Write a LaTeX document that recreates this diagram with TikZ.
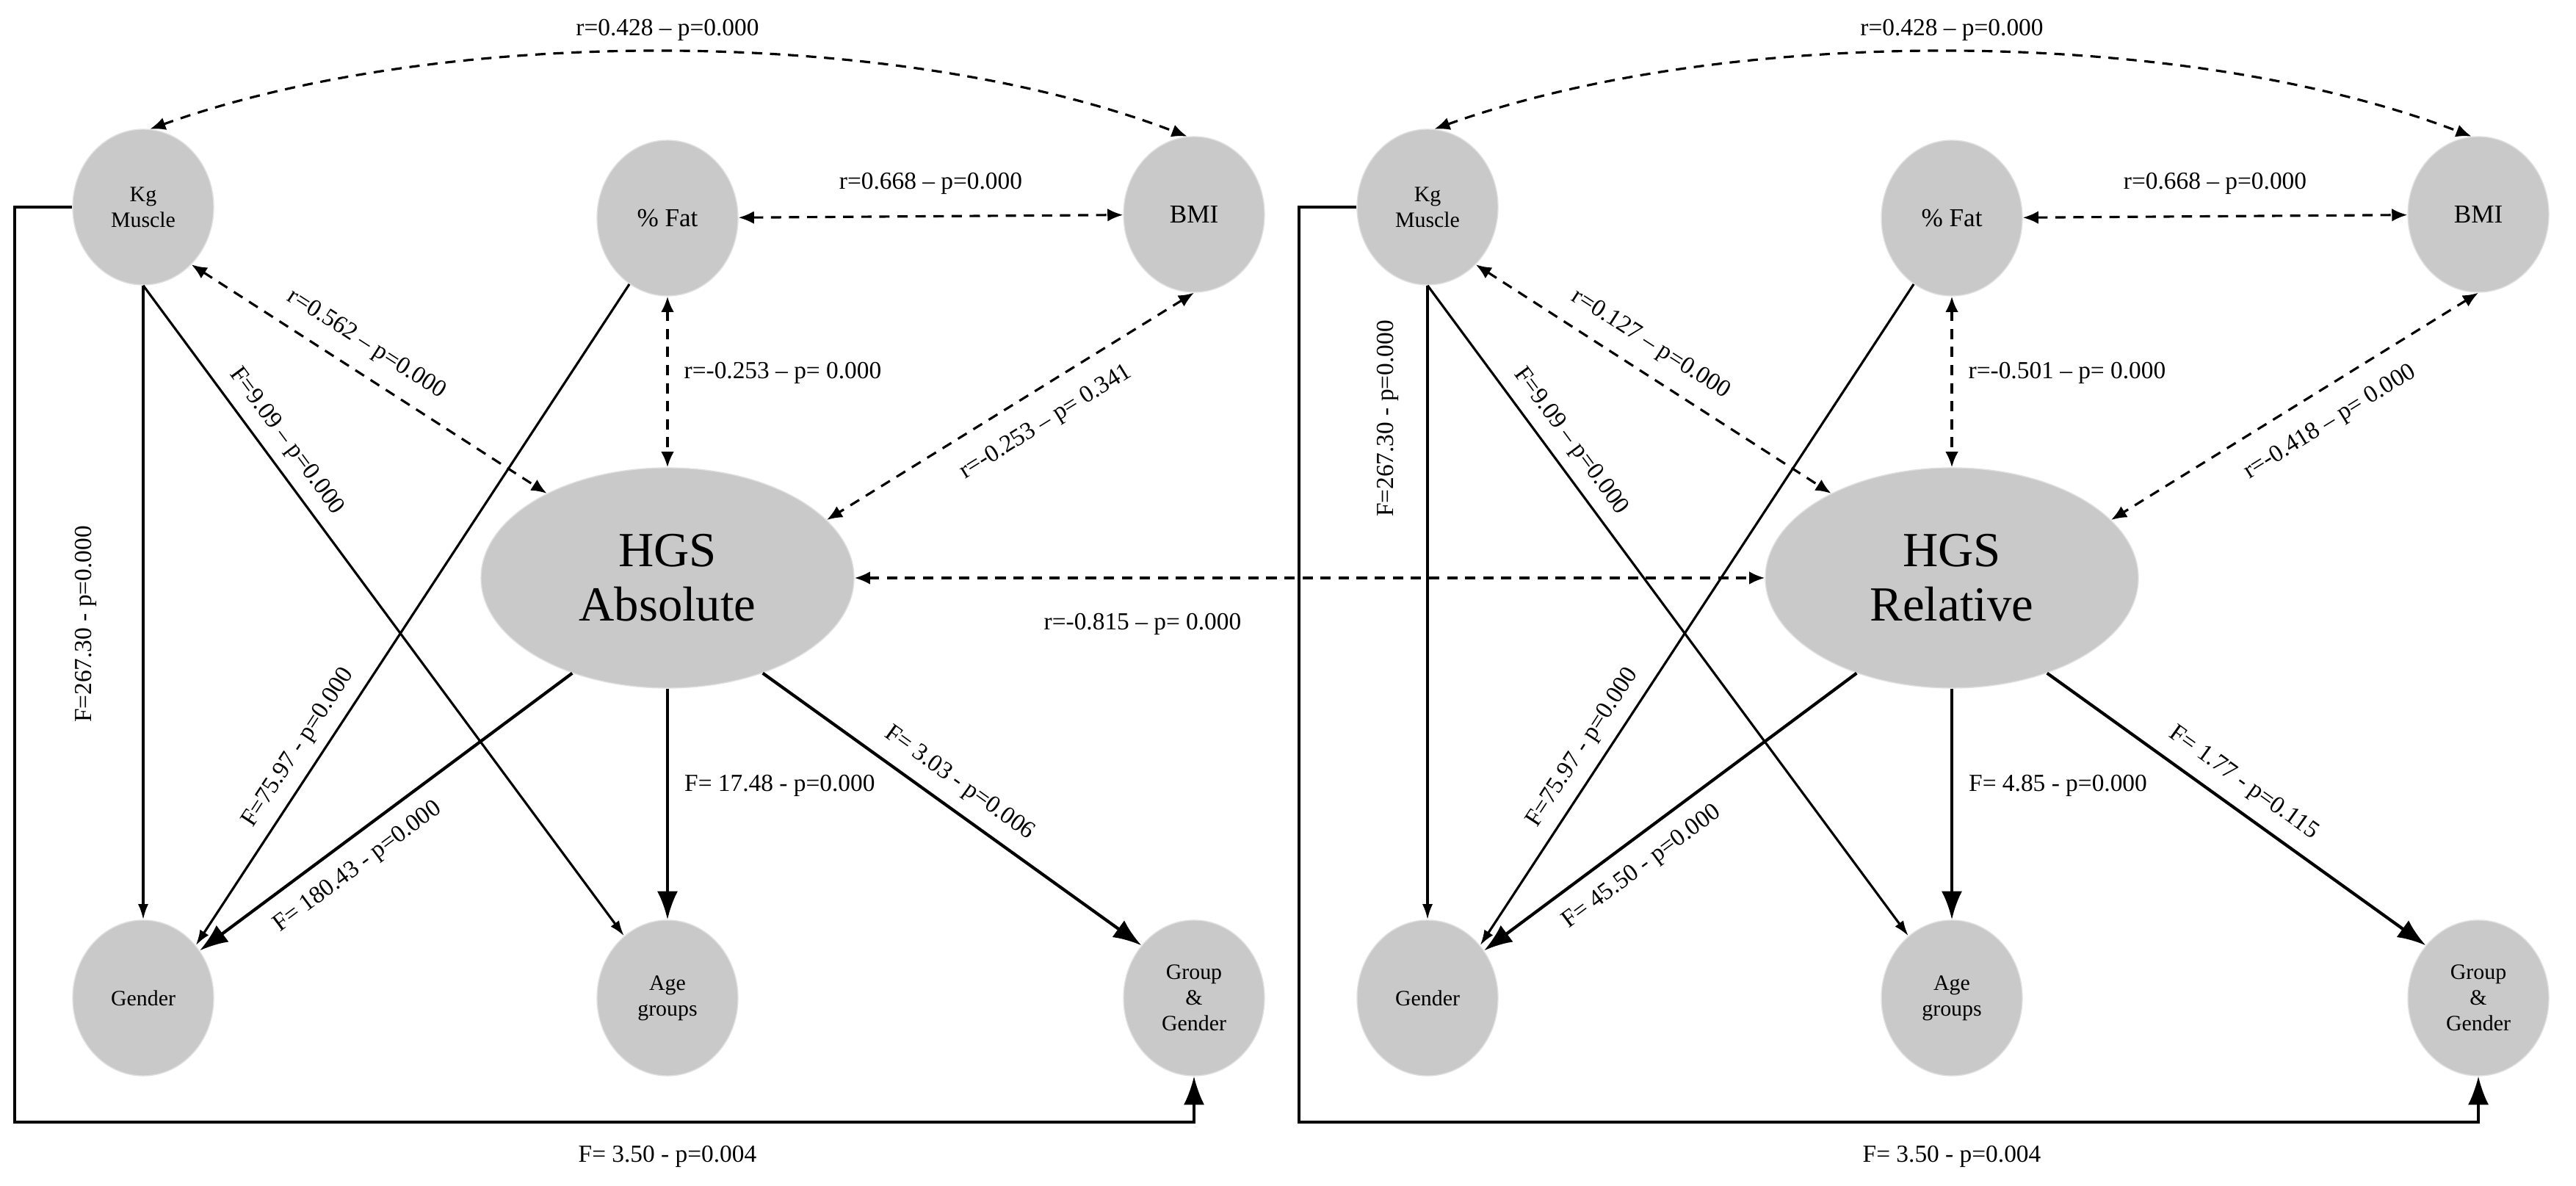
\documentclass[tikz,border=0pt]{standalone}
\usepackage{fontspec}
\setmainfont{Liberation Serif}
\usetikzlibrary{arrows.meta,shapes.geometric}
\begin{document}
\begin{tikzpicture}[>={Latex[length=7pt,width=5pt]}]
    \tikzstyle{var}=[ellipse,minimum width=1.92cm,minimum height=2.12cm,inner sep=0pt,fill=black!21,draw=black!12,align=center,font=\fontsize{8.5}{10}\selectfont]
    \tikzstyle{hgs}=[var,minimum width=5.08cm,minimum height=3.0cm,font=\fontsize{19}{21}\selectfont]
    \tikzstyle{corr}=[<->,dashed,line width=0.9pt,dash pattern=on 4pt off 3pt,>={Latex[length=6pt,width=5pt]}]
    \tikzstyle{eff}=[->,line width=0.9pt,>={Latex[length=6pt,width=4pt]}]
    \tikzstyle{big}=[->,line width=1.2pt,>={Latex[length=11pt,width=8pt]}]
    \tikzstyle{lab}=[font=\fontsize{9.5}{11}\selectfont,inner sep=2pt]
    \useasboundingbox (0,0) rectangle (35.08,-16.15);

    \foreach \x/\nm/\rkm/\rfat/\rbmi/\fgen/\fage/\fgg/\fx/\fy in {
        0/Absolute/{r=0.562 – p=0.000}/{r=-0.253 – p= 0.000}/{r=-0.253 – p= 0.341}/{F= 180.43 - p=0.000}/{F= 17.48 - p=0.000}/{F= 3.03 - p=0.006}/1.17/-8.5,
        17.49/Relative/{r=0.127 – p=0.000}/{r=-0.501 – p= 0.000}/{r=-0.418 – p= 0.000}/{F= 45.50 - p=0.000}/{F= 4.85 - p=0.000}/{F= 1.77 - p=0.115}/1.41/-5.7}
    {
    \begin{scope}[xshift=\x cm]
    % Draw the variable nodes
    \node[var] (km-\nm) at (1.95,-2.82) {Kg\\Muscle};
    \node[var,font=\fontsize{10}{12}\selectfont] (fat-\nm) at (9.09,-2.97) {\% Fat};
    \node[var,font=\fontsize{10}{12}\selectfont] (bmi-\nm) at (16.26,-2.92) {BMI};
    \node[hgs] (hgs-\nm) at (9.09,-7.87) {HGS\\\nm};
    \node[var] (gen-\nm) at (1.95,-13.59) {Gender};
    \node[var] (age-\nm) at (9.09,-13.59) {Age\\groups};
    \node[var] (gg-\nm) at (16.26,-13.59) {Group\\\&\\Gender};

    % Correlations
    \draw[corr] (km-\nm.85) .. controls (6,-0.34) and (12.2,-0.34) .. (bmi-\nm.95);
    \node[lab] at (9.09,-0.41) {r=0.428 – p=0.000};
    \draw[corr] (fat-\nm) -- node[lab,above=6pt] {r=0.668 – p=0.000} (bmi-\nm);
    \draw[corr] (fat-\nm) -- node[lab,right=4pt,pos=0.45] {\rfat} (hgs-\nm);
    \draw[corr] (km-\nm.-50) -- node[lab,sloped,above=4pt,pos=0.45] {\rkm} (hgs-\nm.145);
    \draw[corr] (bmi-\nm.south) -- node[lab,sloped,below=6pt,pos=0.45] {\rbmi} (hgs-\nm.20);

    % Effects
    \draw[eff] (km-\nm) -- (gen-\nm);
    \node[lab,rotate=90] at (\fx,\fy) {F=267.30 - p=0.000};
    \draw[eff] (km-\nm.south) -- node[lab,sloped,above=2pt,pos=0.26] {F=9.09 – p=0.000} (age-\nm.125);
    \draw[eff] (fat-\nm.-120) -- node[lab,sloped,above=2pt,pos=0.72] {F=75.97 - p=0.000} (gen-\nm.45);
    \draw[big] (hgs-\nm.-135) -- node[lab,sloped,below=4pt,pos=0.62] {\fgen} (gen-\nm.40);
    \draw[big] (hgs-\nm) -- node[lab,right=4pt,pos=0.42] {\fage} (age-\nm);
    \draw[big] (hgs-\nm.-45) -- node[lab,sloped,above=3pt,pos=0.48] {\fgg} (gg-\nm.135);
    \draw[big,line width=0.9pt] (km-\nm.west) -| (0.2,-15.28) -| (gg-\nm.south);
    \node[lab] at (9.09,-15.75) {F= 3.50 - p=0.004};
    \end{scope}
    }

    % Link between the two HGS measures
    \draw[corr] (hgs-Absolute) -- (hgs-Relative);
    \node[lab] at (15.56,-8.5) {r=-0.815 – p= 0.000};
\end{tikzpicture}
\end{document}
